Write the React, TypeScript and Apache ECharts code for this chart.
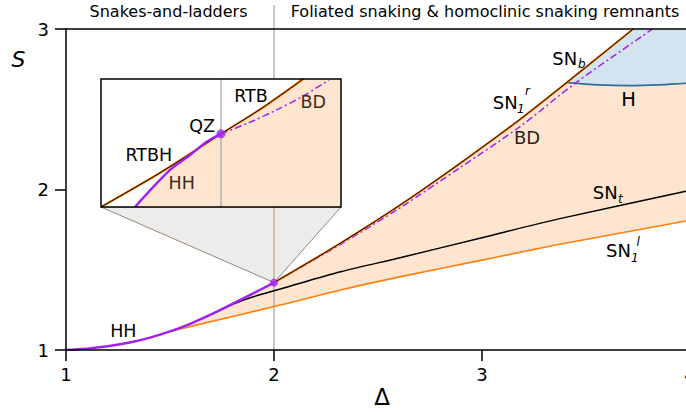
import React, { useEffect, useRef } from 'react';
import * as echarts from 'echarts';

// ---------- data ----------
// main axes
const xRange = [1, 4];
const yRange = [1, 3];
const xTicks = [1, 2, 3, 4];
const yTicks = [1, 2, 3];

// HH branch (purple)
const hhDelta = [1, 1.1, 1.2, 1.3, 1.4, 1.5, 1.6, 1.7, 1.8, 1.9, 2.0];
const hhS = [1, 1.008, 1.023, 1.045, 1.076, 1.116, 1.165, 1.223, 1.287, 1.353, 1.42];
// SN1^l (orange, lower)
const sn1lDelta = [1.5, 2.03, 2.32, 2.61, 3.0, 3.38, 3.98, 4.0];
const sn1lS = [1.116, 1.28, 1.374, 1.457, 1.56, 1.66, 1.804, 1.809];
// SN_t (black)
const sntDelta = [1.75, 1.85, 1.95, 2.03, 2.32, 2.61, 3.0, 3.38, 3.98, 4.0];
const sntS = [1.255, 1.31, 1.351, 1.38, 1.487, 1.576, 1.7, 1.82, 1.989, 1.994];
// SN1^r / SN_b (black over orange, upper)
const sn1rDelta = [2.0, 2.3, 2.606, 2.9, 3.183, 3.407, 3.727];
const sn1rS = [1.42, 1.65, 1.903, 2.168, 2.437, 2.666, 3.0];
// BD (purple dash-dot)
const bdDelta = [2.0, 2.3, 2.606, 2.9, 3.183, 3.447, 3.82];
const bdS = [1.42, 1.643, 1.886, 2.141, 2.392, 2.661, 3.0];
// H (blue)
const hDelta = [3.407, 3.56, 3.71, 3.85, 3.98, 4.0];
const hS = [2.666, 2.652, 2.647, 2.652, 2.662, 2.663];
// QZ point
const qzDelta = 2.0;
const qzS = 1.42;
// separator between regimes
const separatorDelta = 2.0;
const separatorTopS = 3.149;

// inset axes
const insetXRange = [1.99, 2.01];
const insetYRange = [1.412, 1.426];
const rtbDelta = [1.99, 1.995, 2.0, 2.0034, 2.00685];
const rtbS = [1.412, 1.4158, 1.42, 1.4228, 1.426];
const hhInsetDelta = [1.99283, 1.99575, 1.99742, 1.99881, 2.0];
const hhInsetS = [1.412, 1.41605, 1.41769, 1.41914, 1.42];
const bdInsetDelta = [2.0, 2.0023, 2.0046, 2.0068, 2.009];
const bdInsetS = [1.42, 1.4212, 1.4226, 1.4241, 1.4259];

// ---------- styles ----------
const FONT = '"DejaVu Sans", sans-serif';
const PURPLE = '#a020f0';
const ORANGE = '#ff7f0e';
const PEACH = '#fee5cf';
const BLUEFILL = '#d3e3ef';
const BLUELINE = '#2c6e9c';
const GRAYLINE = '#ababab';
const DASHDOT = [7, 3, 2, 3];

const MAIN = { left: 66, top: 29, width: 624, height: 321 };
const INSET = { left: 101, top: 79, width: 240, height: 128 };

const zip = (xs: number[], ys: number[]) => xs.map((x, i) => [x, ys[i]]);

const lineSeries = (
  xs: number[], ys: number[], color: string, width: number, z: number,
  idx = 0, type: any = 'solid', smooth: any = 0.3, clip = true
) => ({
  type: 'line', xAxisIndex: idx, yAxisIndex: idx, data: zip(xs, ys),
  symbol: 'none', showSymbol: false, smooth, z, silent: true, clip,
  lineStyle: { color, width, type }, emphasis: { disabled: true },
});

const polySeries = (pts: number[][], fill: string, z: number, idx = 0) => ({
  type: 'custom', xAxisIndex: idx, yAxisIndex: idx, z, silent: true, clip: true,
  data: [pts[0]],
  renderItem: (_p: any, api: any) => ({
    type: 'polygon',
    shape: { points: pts.map((p) => api.coord(p)) },
    style: { fill, stroke: 'none' },
  }),
});

const txt = (text: string, x: number, y: number, size: number, opt: any = {}) => ({
  type: 'text', x, y, z: 100, silent: true,
  style: {
    text,
    font: `${opt.italic ? 'italic ' : ''}${size}px ${FONT}`,
    fill: opt.color || '#000',
    align: opt.align || 'center', textAlign: opt.align || 'center',
    verticalAlign: 'middle', textVerticalAlign: 'middle',
  },
});

export default function App() {
  const ref = useRef<HTMLDivElement>(null);
  useEffect(() => {
    const chart = echarts.init(ref.current!, null, { renderer: 'svg' });

    const hh = zip(hhDelta, hhS);
    const sn1l = zip(sn1lDelta, sn1lS);
    const sn1r = zip(sn1rDelta, sn1rS);
    const hcurve = zip(hDelta, hS);
    const peachPoly = [
      ...sn1l,
      [xRange[1], yRange[1]],
      ...sn1r.slice().reverse(),
      ...hh.filter((p) => p[0] > sn1lDelta[0] && p[0] < qzDelta).reverse(),
    ];
    const bluePoly = [
      ...sn1r.filter((p) => p[0] >= hDelta[0]),
      [xRange[1], yRange[1]],
      ...hcurve.slice().reverse(),
    ];
    const rtb = zip(rtbDelta, rtbS);
    const insetPeach = [
      ...zip(hhInsetDelta, hhInsetS),
      ...rtb.filter((p) => p[0] > qzDelta),
      [insetXRange[1], insetYRange[1]],
      [insetXRange[1], insetYRange[0]],
    ];
    const insetBox = [
      [insetXRange[0], insetYRange[0]], [insetXRange[1], insetYRange[0]],
      [insetXRange[1], insetYRange[1]], [insetXRange[0], insetYRange[1]],
    ];

    const insetBottom = INSET.top + INSET.height;
    const connector = {
      type: 'custom', xAxisIndex: 0, yAxisIndex: 0, z: 3, silent: true, clip: false,
      data: [[qzDelta, qzS]],
      renderItem: (_p: any, api: any) => {
        const q = api.coord([qzDelta, qzS]);
        return {
          type: 'group',
          children: [
            {
              type: 'polygon',
              shape: { points: [[INSET.left, insetBottom], [INSET.left + INSET.width, insetBottom], q] },
              style: { fill: '#ececec', stroke: '#9a8672', lineWidth: 1 },
            },
            {
              type: 'line',
              shape: { x1: q[0], y1: q[1], x2: q[0], y2: insetBottom },
              style: { stroke: '#cfa887', lineWidth: 1.3 },
            },
          ],
        };
      },
    };

    const axisLabel = { fontSize: 18, color: '#000', fontFamily: FONT };
    const option: any = {
      animation: false,
      grid: [
        { ...MAIN, show: true, z: 3, borderColor: '#000', borderWidth: 1.5, backgroundColor: 'transparent',
          containLabel: false, outerBoundsMode: 'none' },
        { ...INSET, show: true, z: 10, borderColor: '#000', borderWidth: 1.5, backgroundColor: 'transparent',
          containLabel: false, outerBoundsMode: 'none' },
      ],
      xAxis: [
        {
          gridIndex: 0, type: 'value', min: xRange[0], max: xRange[1], interval: 1,
          axisLine: { show: false },
          axisTick: { show: true, length: 11, lineStyle: { color: '#000', width: 1.5 } },
          axisLabel: { ...axisLabel, margin: 15, showMinLabel: true, showMaxLabel: true,
            formatter: (v: number) => (xTicks.includes(v) ? String(v) : '') },
          splitLine: { show: false },
        },
        { gridIndex: 1, type: 'value', min: insetXRange[0], max: insetXRange[1], show: false, splitLine: { show: false } },
      ],
      yAxis: [
        {
          gridIndex: 0, type: 'value', min: yRange[0], max: yRange[1], interval: 1,
          axisLine: { show: false },
          axisTick: { show: true, length: 11, lineStyle: { color: '#000', width: 1.5 } },
          axisLabel: { ...axisLabel, margin: 17, showMinLabel: true, showMaxLabel: true,
            formatter: (v: number) => (yTicks.includes(v) ? String(v) : '') },
          splitLine: { show: false },
        },
        { gridIndex: 1, type: 'value', min: insetYRange[0], max: insetYRange[1], show: false, splitLine: { show: false } },
      ],
      series: [
        // main fills
        polySeries(peachPoly, PEACH, 1),
        polySeries(bluePoly, BLUEFILL, 1.2),
        // separator line
        lineSeries([separatorDelta, separatorDelta], [yRange[0], separatorTopS], GRAYLINE, 1.3, 1.5, 0, 'solid', false, false),
        // main curves
        lineSeries(sn1lDelta, sn1lS, ORANGE, 1.6, 2),
        lineSeries(sntDelta, sntS, '#000', 1.5, 2.1),
        lineSeries(hDelta, hS, BLUELINE, 1.6, 2.1),
        lineSeries(bdDelta, bdS, PURPLE, 1.5, 2.2, 0, DASHDOT),
        lineSeries(sn1rDelta, sn1rS, ORANGE, 2.2, 2.3),
        lineSeries(sn1rDelta, sn1rS, '#000', 1.0, 2.4),
        lineSeries(hhDelta, hhS, PURPLE, 2.4, 2.5),
        connector,
        {
          type: 'scatter', xAxisIndex: 0, yAxisIndex: 0, data: [[qzDelta, qzS]], symbolSize: 8,
          itemStyle: { color: PURPLE }, z: 4, silent: true,
        },
        // inset
        polySeries(insetBox, '#fff', 5, 1),
        polySeries(insetPeach, PEACH, 6, 1),
        lineSeries([qzDelta, qzDelta], [insetYRange[0], insetYRange[1]], GRAYLINE, 1.3, 6.5, 1, 'solid', false),
        lineSeries(bdInsetDelta, bdInsetS, PURPLE, 1.5, 7, 1, DASHDOT),
        lineSeries(rtbDelta, rtbS, ORANGE, 2.2, 7.1, 1),
        lineSeries(rtbDelta, rtbS, '#000', 1.0, 7.2, 1),
        lineSeries(hhInsetDelta, hhInsetS, PURPLE, 2.4, 7.3, 1),
        {
          type: 'scatter', xAxisIndex: 1, yAxisIndex: 1, data: [[qzDelta, qzS]], symbolSize: 9,
          itemStyle: { color: PURPLE }, z: 8, silent: true,
        },
      ],
      graphic: [
        txt('Snakes-and-ladders', 168.5, 11, 16),
        txt('Foliated snaking & homoclinic snaking remnants', 485, 11, 16),
        txt('S', 18.5, 59.5, 22, { italic: true }),
        txt('Δ', 382, 396.5, 23),
        txt('HH', 123.3, 331.4, 17.5),
        txt('SN', 552.3, 58, 18, { align: 'left' }),
        txt('b', 578, 64, 12, { align: 'left', italic: true }),
        txt('SN', 492.7, 102.5, 18, { align: 'left' }),
        txt('1', 517, 108.5, 12, { align: 'left', italic: true }),
        txt('r', 525, 91, 12, { align: 'left', italic: true }),
        txt('BD', 527, 137.5, 18, { color: '#2a2420' }),
        txt('H', 628.7, 99, 19.5),
        txt('SN', 592.7, 192.5, 18, { align: 'left' }),
        txt('t', 618, 199, 12, { align: 'left', italic: true }),
        txt('SN', 606, 250.8, 18, { align: 'left' }),
        txt('1', 631, 258, 12, { align: 'left', italic: true }),
        txt('l', 636.5, 242, 12, { align: 'left', italic: true }),
        txt('RTB', 251, 96, 17.5),
        txt('BD', 313.3, 102, 17.5, { color: '#3d2a1a' }),
        txt('QZ', 202, 126, 17.5),
        txt('RTBH', 148.8, 154.7, 17.5),
        txt('HH', 181.7, 183.3, 17.5, { color: '#3d2a1a' }),
      ],
    };
    chart.setOption(option);
    return () => chart.dispose();
  }, []);
  return (
    <div
      ref={ref}
      style={{ position: 'absolute', left: 0, top: 0, width: 686, height: 413 }}
    />
  );
}
